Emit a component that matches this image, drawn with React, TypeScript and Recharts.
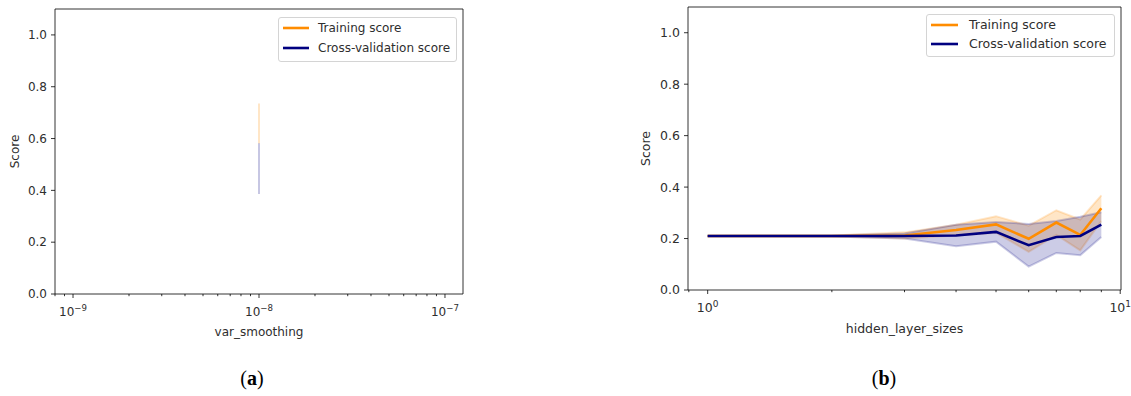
import React from 'react';
import {
  ComposedChart,
  Line,
  Area,
  XAxis,
  YAxis,
  ReferenceArea,
  ReferenceLine,
  Legend,
} from 'recharts';

const FONT = '"DejaVu Sans", Verdana, sans-serif';
const TEXT = '#2e2e2e';
const ORANGE = '#ff8c00';
const NAVY = '#000080';
const LW = 2.6;

// ---------- (a) var_smoothing ----------
const varSmoothing = [1e-8];
const nbTrainMean = [0.658];
const nbTrainStd = [0.077];
const nbTestMean = [0.484];
const nbTestStd = [0.098];
const nbXDomain = [8e-10, 1.25e-7];
const nbXTicks = [
  8e-10, 9e-10, 1e-9, 2e-9, 3e-9, 4e-9, 5e-9, 6e-9, 7e-9, 8e-9, 9e-9,
  1e-8, 2e-8, 3e-8, 4e-8, 5e-8, 6e-8, 7e-8, 8e-8, 9e-8, 1e-7,
];

// ---------- (b) hidden_layer_sizes ----------
const hiddenLayerSizes = [1, 2, 3, 4, 5, 6, 7, 8, 9];
const mlpTrainMean = [0.21, 0.21, 0.212, 0.233, 0.255, 0.199, 0.262, 0.214, 0.318];
const mlpTrainStd = [0.001, 0.002, 0.012, 0.021, 0.032, 0.051, 0.048, 0.06, 0.05];
const mlpTestMean = [0.21, 0.21, 0.21, 0.212, 0.226, 0.174, 0.206, 0.21, 0.254];
const mlpTestStd = [0.001, 0.002, 0.01, 0.042, 0.038, 0.083, 0.062, 0.075, 0.048];
const mlpXDomain = [0.896, 10.044];
const mlpXTicks = [0.9, 1, 2, 3, 4, 5, 6, 7, 8, 9, 10];

// shared y axis
const yDomain = [0, 1.1];
const yTicks = [0, 0.2, 0.4, 0.6, 0.8, 1.0];

const seriesNames = ['Training score', 'Cross-validation score'];
const xLabels = ['var_smoothing', 'hidden_layer_sizes'];
const yLabel = 'Score';
const captions = ['a', 'b'];

const nbData = varSmoothing.map((x, i) => ({
  x,
  train: nbTrainMean[i],
  test: nbTestMean[i],
}));

const mlpData = hiddenLayerSizes.map((x, i) => ({
  x,
  train: mlpTrainMean[i],
  test: mlpTestMean[i],
  trainBand: [mlpTrainMean[i] - mlpTrainStd[i], mlpTrainMean[i] + mlpTrainStd[i]],
  testBand: [mlpTestMean[i] - mlpTestStd[i], mlpTestMean[i] + mlpTestStd[i]],
}));

const LogTick = (props: any) => {
  const { x, y, payload, fs } = props;
  const v = payload.value;
  const e = Math.log10(v);
  const major = Math.abs(e - Math.round(e)) < 1e-6;
  const exp = Math.round(e);
  const expStr = exp < 0 ? '\u2212' + Math.abs(exp) : String(exp);
  return (
    <g>
      <line
        x1={x}
        x2={x}
        y1={y}
        y2={y + (major ? 4 : 2.2)}
        stroke="#000"
        strokeWidth={0.8}
      />
      {major && (
        <text
          x={x}
          y={y + 22}
          textAnchor="middle"
          fill={TEXT}
          fontSize={fs}
          fontFamily={FONT}
        >
          10
          <tspan dy={-5} fontSize={fs * 0.72}>
            {expStr}
          </tspan>
        </text>
      )}
    </g>
  );
};

const makeLegend =
  (w: number, fs: number, rowH: number, lineW: number, gap: number) =>
  (props: any) => {
    const items = (props.payload || [])
      .filter((p: any) => p.type !== 'none' && seriesNames.includes(p.value))
      .slice()
      .sort((a: any, b: any) => seriesNames.indexOf(a.value) - seriesNames.indexOf(b.value));
    return (
      <div
        style={{
          width: w,
          boxSizing: 'border-box',
          border: '1px solid #d4d4d4',
          borderRadius: 3,
          background: '#fff',
          padding: '0 0 3px 4px',
          fontFamily: FONT,
          fontSize: fs,
          color: TEXT,
        }}
      >
        {items.map((p: any) => (
          <div
            key={p.value}
            style={{ display: 'flex', alignItems: 'center', height: rowH, whiteSpace: 'nowrap' }}
          >
            <svg width={lineW} height={4} style={{ display: 'block' }}>
              <line x1={0} y1={2} x2={lineW} y2={2} stroke={p.color} strokeWidth={LW} />
            </svg>
            <span style={{ marginLeft: gap }}>{p.value}</span>
          </div>
        ))}
      </div>
    );
  };

const yTickFmt = (v: number) => v.toFixed(1);
const noDot = { r: 0, strokeWidth: 0, fill: 'none' };

const ChartA = () => (
  <ComposedChart
    width={470}
    height={348}
    data={nbData}
    margin={{ top: 9, right: 7, bottom: 8, left: 0 }}
  >
    <XAxis
      dataKey="x"
      type="number"
      scale="log"
      domain={nbXDomain}
      allowDataOverflow
      ticks={nbXTicks}
      interval={0}
      tickSize={0}
      tickMargin={0}
      tickLine={false}
      axisLine={false}
      height={46}
      tick={(p: any) => <LogTick {...p} fs={12} />}
      label={{
        value: xLabels[0],
        position: 'insideBottom',
        offset: 4,
        fill: TEXT,
        fontSize: 12,
        fontFamily: FONT,
      }}
    />
    <YAxis
      type="number"
      domain={yDomain}
      ticks={yTicks}
      allowDataOverflow
      width={55}
      axisLine={false}
      tickSize={4}
      tickMargin={4}
      tickLine={{ stroke: '#000', strokeWidth: 0.8 }}
      tickFormatter={yTickFmt}
      tick={{ fill: TEXT, fontSize: 12, fontFamily: FONT }}
      label={{
        value: yLabel,
        angle: -90,
        position: 'insideLeft',
        offset: 15,
        fill: TEXT,
        fontSize: 12,
        fontFamily: FONT,
        style: { textAnchor: 'middle' },
      }}
    />
    <ReferenceArea
      x1={nbXDomain[0]}
      x2={nbXDomain[1]}
      y1={yDomain[0]}
      y2={yDomain[1]}
      fill="none"
      stroke="#000"
      strokeWidth={0.8}
      ifOverflow="visible"
    />
    {varSmoothing.map((x, i) => (
      <ReferenceLine
        key={'tr' + i}
        segment={[
          { x, y: nbTrainMean[i] - nbTrainStd[i] },
          { x, y: nbTrainMean[i] + nbTrainStd[i] },
        ]}
        stroke={ORANGE}
        strokeOpacity={0.22}
        strokeWidth={2}
      />
    ))}
    {varSmoothing.map((x, i) => (
      <ReferenceLine
        key={'te' + i}
        segment={[
          { x, y: nbTestMean[i] - nbTestStd[i] },
          { x, y: nbTestMean[i] + nbTestStd[i] },
        ]}
        stroke={NAVY}
        strokeOpacity={0.22}
        strokeWidth={2}
      />
    ))}
    <Line
      dataKey="train"
      name={seriesNames[0]}
      type="linear"
      stroke={ORANGE}
      strokeWidth={LW}
      dot={noDot}
      activeDot={false}
      isAnimationActive={false}
    />
    <Line
      dataKey="test"
      name={seriesNames[1]}
      type="linear"
      stroke={NAVY}
      strokeWidth={LW}
      dot={noDot}
      activeDot={false}
      isAnimationActive={false}
    />
    <Legend
      layout="vertical"
      align="center"
      verticalAlign="middle"
      wrapperStyle={{ left: 278, top: 17 }}
      content={makeLegend(179, 12, 20, 26, 9)}
    />
  </ComposedChart>
);

const ChartB = () => (
  <ComposedChart
    width={531}
    height={344}
    data={mlpData}
    margin={{ top: 7, right: 10, bottom: 8, left: 0 }}
  >
    <XAxis
      dataKey="x"
      type="number"
      scale="log"
      domain={mlpXDomain}
      allowDataOverflow
      ticks={mlpXTicks}
      interval={0}
      tickSize={0}
      tickMargin={0}
      tickLine={false}
      axisLine={false}
      height={46}
      tick={(p: any) => <LogTick {...p} fs={12.5} />}
      label={{
        value: xLabels[1],
        position: 'insideBottom',
        offset: 3,
        fill: TEXT,
        fontSize: 12.5,
        fontFamily: FONT,
      }}
    />
    <YAxis
      type="number"
      domain={yDomain}
      ticks={yTicks}
      allowDataOverflow
      width={88}
      axisLine={false}
      tickSize={4}
      tickMargin={4}
      tickLine={{ stroke: '#000', strokeWidth: 0.8 }}
      tickFormatter={yTickFmt}
      tick={{ fill: TEXT, fontSize: 12.5, fontFamily: FONT }}
      label={{
        value: yLabel,
        angle: -90,
        position: 'insideLeft',
        offset: 46,
        fill: TEXT,
        fontSize: 12.5,
        fontFamily: FONT,
        style: { textAnchor: 'middle' },
      }}
    />
    <ReferenceArea
      x1={mlpXDomain[0]}
      x2={mlpXDomain[1]}
      y1={yDomain[0]}
      y2={yDomain[1]}
      fill="none"
      stroke="#000"
      strokeWidth={0.8}
      ifOverflow="visible"
    />
    <Line
      dataKey="train"
      name={seriesNames[0]}
      type="linear"
      stroke={ORANGE}
      strokeWidth={LW}
      dot={false}
      activeDot={false}
      isAnimationActive={false}
    />
    <Area
      dataKey="trainBand"
      type="linear"
      fill={ORANGE}
      fillOpacity={0.22}
      stroke={ORANGE}
      strokeOpacity={0.2}
      strokeWidth={2}
      legendType="none"
      dot={false}
      activeDot={false}
      isAnimationActive={false}
    />
    <Line
      dataKey="test"
      name={seriesNames[1]}
      type="linear"
      stroke={NAVY}
      strokeWidth={LW}
      dot={false}
      activeDot={false}
      isAnimationActive={false}
    />
    <Area
      dataKey="testBand"
      type="linear"
      fill={NAVY}
      fillOpacity={0.2}
      stroke={NAVY}
      strokeOpacity={0.2}
      strokeWidth={2}
      legendType="none"
      dot={false}
      activeDot={false}
      isAnimationActive={false}
    />
    <Legend
      layout="vertical"
      align="center"
      verticalAlign="middle"
      wrapperStyle={{ left: 326, top: 14 }}
      content={makeLegend(189, 12.5, 19, 27, 11)}
    />
  </ComposedChart>
);

const Caption = ({ letter, cx }: { letter: string; cx: number }) => (
  <div
    style={{
      position: 'absolute',
      left: cx - 30,
      top: 367,
      width: 60,
      textAlign: 'center',
      fontFamily: '"Liberation Serif", "DejaVu Serif", serif',
      fontSize: 20,
      lineHeight: '23px',
      color: '#000',
    }}
  >
    (<b>{letter}</b>)
  </div>
);

export default function App() {
  return (
    <div
      style={{
        position: 'absolute',
        left: 0,
        top: 0,
        width: 1131,
        height: 396,
        background: '#fff',
        overflow: 'hidden',
      }}
    >
      <div style={{ position: 'absolute', left: 0, top: 0 }}>
        <ChartA />
      </div>
      <div style={{ position: 'absolute', left: 600, top: 0 }}>
        <ChartB />
      </div>
      <Caption letter={captions[0]} cx={252} />
      <Caption letter={captions[1]} cx={884} />
    </div>
  );
}
